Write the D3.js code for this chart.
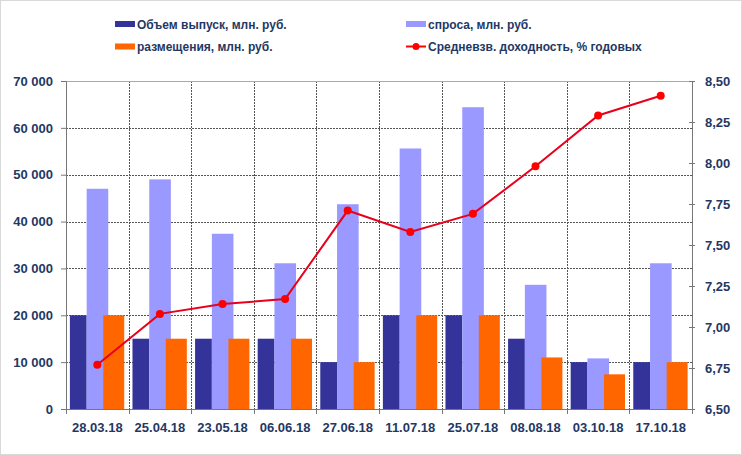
<!DOCTYPE html>
<html>
<head>
<meta charset="utf-8">
<script src="https://cdn.jsdelivr.net/npm/d3@7"></script>
<style>
  body { margin: 0; background: #fff; }
  text { font-family: "Liberation Sans", Arial, sans-serif; fill: #1F3864; }
</style>
</head>
<body>
<svg id="chart" width="742" height="455"></svg>
<script>
// данные
var dates = ['28.03.18', '25.04.18', '23.05.18', '06.06.18', '27.06.18', '11.07.18', '25.07.18', '08.08.18', '03.10.18', '17.10.18'];
var obem = [20000, 15000, 15000, 15000, 10000, 20000, 20000, 15000, 10000, 10000];
var spros = [47000, 49000, 37400, 31100, 43700, 55600, 64400, 26500, 10800, 31100];
var razm = [20000, 15000, 15000, 15000, 10000, 20000, 20000, 11000, 7400, 10000];
var dohod = [6.77, 7.08, 7.14, 7.17, 7.71, 7.58, 7.69, 7.98, 8.29, 8.41];
var leftTicks = [0, 10000, 20000, 30000, 40000, 50000, 60000, 70000];
var rightTicks = [6.5, 6.75, 7.0, 7.25, 7.5, 7.75, 8.0, 8.25, 8.5];

var svg = d3.select('#chart');
var margin = {top: 81, right: 50, bottom: 46, left: 66};
var width = 742 - margin.left - margin.right,
    height = 455 - margin.top - margin.bottom;

svg.append('rect').attr('x', 0.5).attr('y', 0.5).attr('width', 741).attr('height', 454)
  .attr('fill', 'none').attr('stroke', '#d9d9d9');

var g = svg.append('g').attr('transform', 'translate(' + margin.left + ',' + margin.top + ')');

var x = d3.scaleBand().domain(dates).range([0, width]).padding(0);
var y = d3.scaleLinear().domain([0, 70000]).range([height, 0]);
var y2 = d3.scaleLinear().domain([6.5, 8.5]).range([height, 0]);

// сетка
g.selectAll('.hgrid').data(leftTicks.slice(1, -1)).enter().append('line')
  .attr('x1', 0).attr('x2', width)
  .attr('y1', function(d) { return Math.round(y(d)) + 0.5; })
  .attr('y2', function(d) { return Math.round(y(d)) + 0.5; })
  .attr('stroke', '#555').attr('stroke-dasharray', '2,1');
g.selectAll('.vgrid').data(dates.slice(1)).enter().append('line')
  .attr('x1', function(d) { return Math.round(x(d)) + 0.5; })
  .attr('x2', function(d) { return Math.round(x(d)) + 0.5; })
  .attr('y1', 0).attr('y2', height)
  .attr('stroke', '#555').attr('stroke-dasharray', '2,1');
g.append('line').attr('x1', 0).attr('x2', width).attr('y1', 0.5).attr('y2', 0.5).attr('stroke', '#aaa');

// столбцы
var bw = x.bandwidth();
function bars(vals, color, a, b) {
  g.selectAll(null).data(vals).enter().append('rect')
    .attr('x', function(d, i) { return x(dates[i]) + bw * a; })
    .attr('width', bw * (b - a))
    .attr('y', function(d) { return y(d); })
    .attr('height', function(d) { return height - y(d); })
    .attr('fill', color);
}
bars(obem, '#333399', 0.062, 0.33);
bars(spros, '#9999FF', 0.33, 0.675);
bars(razm, '#FF6600', 0.595, 0.93);

// оси
var axL = g.append('g').call(d3.axisLeft(y).tickValues(leftTicks).tickSize(5).tickPadding(8)
  .tickFormat(function(d) { return d3.format(',')(d).replace(/,/g, ' '); }));
var axR = g.append('g').attr('transform', 'translate(' + width + ',0)')
  .call(d3.axisRight(y2).tickValues(rightTicks).tickSize(3).tickPadding(10)
  .tickFormat(function(d) { return d3.format('.2f')(d).replace('.', ','); }));
axR.selectAll('.tick line').attr('x1', -3);
var axB = g.append('g').attr('transform', 'translate(0,' + height + ')')
  .call(d3.axisBottom(x).tickSize(0).tickPadding(14));
[axL, axR, axB].forEach(function(a) {
  a.select('.domain').attr('stroke', '#777');
  a.selectAll('.tick line').attr('stroke', '#777');
  a.selectAll('text').style('font-size', '13px').style('font-weight', 'bold').attr('fill', '#1F3864');
});
axB.select('.domain').attr('d', 'M0,0.5H' + width);
g.selectAll('.btick').data(dates.concat(['end'])).enter().append('line')
  .attr('x1', function(d, i) { return Math.round(i * bw) + 0.5; })
  .attr('x2', function(d, i) { return Math.round(i * bw) + 0.5; })
  .attr('y1', height).attr('y2', height + 5).attr('stroke', '#777');

// линия доходности
var line = d3.line()
  .x(function(d, i) { return x(dates[i]) + bw / 2; })
  .y(function(d) { return y2(d); });
g.append('path').datum(dohod).attr('d', line).attr('fill', 'none')
  .attr('stroke', '#E8001C').attr('stroke-width', 2);
g.selectAll('.dot').data(dohod).enter().append('circle')
  .attr('cx', function(d, i) { return x(dates[i]) + bw / 2; })
  .attr('cy', function(d) { return y2(d); })
  .attr('r', 4).attr('fill', '#FF0000');

// легенда
var legend = [
  {name: 'Объем выпуск, млн. руб.', color: '#333399', type: 'bar', x: 115, y: 24},
  {name: 'спроса, млн. руб.', color: '#9999FF', type: 'bar', x: 406, y: 24},
  {name: 'размещения, млн. руб.', color: '#FF6600', type: 'bar', x: 115, y: 46.5},
  {name: 'Средневзв. доходность, % годовых', color: '#FF0000', type: 'line', x: 406, y: 46.5}
];
var lg = svg.selectAll('.leg').data(legend).enter().append('g')
  .attr('transform', function(d) { return 'translate(' + d.x + ',' + d.y + ')'; });
lg.each(function(d) {
  var s = d3.select(this);
  if (d.type === 'bar') {
    s.append('rect').attr('x', 0).attr('y', -3).attr('width', 20).attr('height', 6).attr('fill', d.color);
  } else {
    s.append('line').attr('x1', 0).attr('x2', 20).attr('y1', 0).attr('y2', 0).attr('stroke', d.color).attr('stroke-width', 2);
    s.append('circle').attr('cx', 10).attr('cy', 0).attr('r', 3.5).attr('fill', d.color);
  }
  s.append('text').attr('x', 22).attr('y', 4.5).style('font-size', '12px').style('font-weight', 'bold').text(d.name);
});
</script>
</body>
</html>
